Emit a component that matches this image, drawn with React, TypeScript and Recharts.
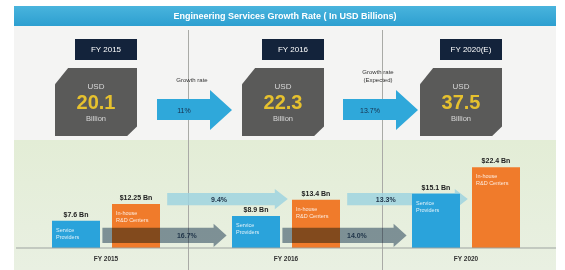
import { Bar, ComposedChart, LabelList, ReferenceArea, XAxis, YAxis } from "recharts";

// bottom chart: split of the market per year
const fyLabels = ["FY 2015", "FY 2016", "FY 2020"];
const vendorValues = [7.6, 8.9, 15.1];
const inhouseValues = [12.25, 13.4, 22.4];
const vendorGrowth = ["16.7%", "14.0%"];
const inhouseGrowth = ["9.4%", "13.3%"];
const vendorLines = ["Service", "Providers"];
const inhouseLines = ["In-house", "R&D Centers"];

// top tiles: total market
const headlineYears = ["FY 2015", "FY 2016", "FY 2020(E)"];
const headlineTotals = [20.1, 22.3, 37.5];
const headlineGrowth = ["11%", "13.7%"];
const headlineNotes = [["Growth rate"], ["Growth rate", "(Expected)"]];

const title = "Engineering Services Growth Rate ( In USD Billions)";

const BLUE = "#2aa3db";
const ORANGE = "#f07b2b";
const FONT = "'Liberation Sans', Arial, sans-serif";

const data = fyLabels.map((year, i) => ({ year, pos: i + 0.5, vendor: vendorValues[i], inhouse: inhouseValues[i] }));

// tile layout (left edge of each tile)
const tileLeft = [55, 242, 420];
const arrowLeft = [157, 343];

function arrowShape(label: string, fill: string, opacity: number, blend: string, textAt: number) {
  return (props: any) => {
    const { x, y, width, height } = props;
    if (x == null || width == null) return <g />;
    const head = 13;
    const flare = 4;
    const bx = x + width - head;
    const pts = [
      [x, y],
      [bx, y],
      [bx, y - flare],
      [x + width, y + height / 2],
      [bx, y + height + flare],
      [bx, y + height],
      [x, y + height]
    ]
      .map((p) => p.join(","))
      .join(" ");
    return (
      <g>
        <polygon points={pts} fill={fill} fillOpacity={opacity} style={{ mixBlendMode: blend as any }} />
        <text
          x={x + width * textAt}
          y={y + height / 2 + 2.5}
          textAnchor="middle"
          fontSize={7}
          fontWeight="bold"
          fill="#1e3348"
          fontFamily={FONT}
        >
          {label}
        </text>
      </g>
    );
  };
}

function innerLabel(lines: string[]) {
  return (props: any) => {
    const { x, y } = props;
    return (
      <g>
        {lines.map((line, k) => (
          <text key={k} x={x + 4} y={y + 11 + k * 7} fontSize={5.5} fill="#fff" fillOpacity={0.85} fontFamily={FONT}>
            {line}
          </text>
        ))}
      </g>
    );
  };
}

const topLabel = (props: any) => {
  const { x, y, width, value } = props;
  return (
    <text x={x + width / 2} y={y - 4} textAnchor="middle" fontSize={7} fontWeight="bold" fill="#222" fontFamily={FONT}>
      {`$${value} Bn`}
    </text>
  );
};

export default function App() {
  return (
    <div style={{ position: "absolute", left: 0, top: 0, width: 565, height: 270, background: "#fff", overflow: "hidden", fontFamily: FONT }}>
      {/* panels */}
      <div style={{ position: "absolute", left: 14, top: 26, width: 542, height: 114, background: "#f4f4f3" }} />
      <div style={{ position: "absolute", left: 14, top: 140, width: 542, height: 130, background: "linear-gradient(#e3edd6, #e9f0e2)" }} />
      <div style={{ position: "absolute", left: 14, top: 6, width: 542, height: 20, background: "linear-gradient(#49b4dd, #2d9fd0)", color: "#fff", fontSize: 9, fontWeight: "bold", textAlign: "center", lineHeight: "20px" }}>
        {title}
      </div>
      {[188, 382].map((lx) => (
        <div key={lx} style={{ position: "absolute", left: lx, top: 30, width: 1, height: 240, background: "#a9aaa6" }} />
      ))}

      {/* top tiles */}
      {headlineYears.map((yr, i) => (
        <div key={yr}>
          <div style={{ position: "absolute", left: tileLeft[i] + 20, top: 39, width: 62, height: 21, background: "#13233b", color: "#fff", fontSize: 8, textAlign: "center", lineHeight: "21px" }}>
            {yr}
          </div>
          <div
            style={{
              position: "absolute",
              left: tileLeft[i],
              top: 68,
              width: 82,
              height: 68,
              background: "#5a5a59",
              clipPath: "polygon(16% 0, 100% 0, 100% 86%, 88% 100%, 0 100%, 0 24%)",
              textAlign: "center",
              color: "#d8d8d8"
            }}
          >
            <div style={{ fontSize: 8, marginTop: 14 }}>USD</div>
            <div style={{ fontSize: 20, fontWeight: "bold", color: "#e6c12e", lineHeight: "22px" }}>{headlineTotals[i]}</div>
            <div style={{ fontSize: 7.5, marginTop: 1 }}>Billion</div>
          </div>
        </div>
      ))}
      {headlineGrowth.map((g, i) => (
        <div key={g}>
          <svg style={{ position: "absolute", left: arrowLeft[i], top: 88, overflow: "visible" }} width={76} height={44}>
            <polygon points="0,11 53,11 53,2 75,22 53,42 53,32 0,32" fill="#2fa8da" />
            <text x={27} y={25} textAnchor="middle" fontSize={7} fill="#16304d" fontFamily={FONT}>
              {g}
            </text>
          </svg>
          <div style={{ position: "absolute", left: arrowLeft[i] + 5, top: 84 - headlineNotes[i].length * 8, width: 60, textAlign: "center", fontSize: 6, color: "#333", lineHeight: "8px" }}>
            {headlineNotes[i].map((n) => (
              <div key={n}>{n}</div>
            ))}
          </div>
        </div>
      ))}

      {/* bottom chart */}
      <div style={{ position: "absolute", left: 0, top: 0 }}>
        <ComposedChart width={565} height={270} data={data} margin={{ top: 140, right: 9, left: 16, bottom: 2 }} barGap={12}>
          <XAxis
            dataKey="year"
            height={20}
            tickLine={false}
            axisLine={{ stroke: "#9da3a0" }}
            tick={{ fontSize: 6.5, fontWeight: "bold", fill: "#333", fontFamily: FONT }}
          />
          <XAxis xAxisId="n" dataKey="pos" type="number" domain={[0, 3]} allowDataOverflow hide />
          <YAxis hide domain={[0, 30]} />
          {inhouseGrowth.map((g, i) => (
            <ReferenceArea
              key={"u" + i}
              xAxisId="n"
              x1={i + 0.84}
              x2={i + 1.51}
              y1={11.9}
              y2={15.3}
              ifOverflow="visible"
              zIndex={50}
              shape={arrowShape(g, "#9fd3df", 0.85, "normal", i === 0 ? 0.43 : 0.32)}
            />
          ))}
          <Bar dataKey="vendor" fill={BLUE} barSize={48} isAnimationActive={false}>
            <LabelList dataKey="vendor" content={topLabel} />
            <LabelList dataKey="vendor" content={innerLabel(vendorLines)} />
          </Bar>
          <Bar dataKey="inhouse" fill={ORANGE} barSize={48} isAnimationActive={false}>
            <LabelList dataKey="inhouse" content={topLabel} />
            <LabelList dataKey="inhouse" content={innerLabel(inhouseLines)} />
          </Bar>
          {vendorGrowth.map((g, i) => (
            <ReferenceArea
              key={"l" + i}
              xAxisId="n"
              x1={i + 0.48}
              x2={i + 1.17}
              y1={1.4}
              y2={5.6}
              ifOverflow="visible"
              zIndex={1000}
              shape={arrowShape(g, "#8a9aab", 1, "multiply", i === 0 ? 0.68 : 0.6)}
            />
          ))}
        </ComposedChart>
      </div>
    </div>
  );
}
